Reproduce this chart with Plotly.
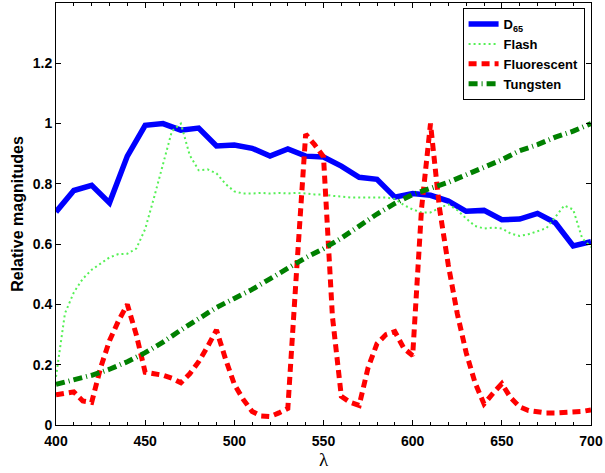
import plotly.graph_objects as go

# Wavelength grids (nm)
wl10 = [400, 410, 420, 430, 440, 450, 460, 470, 480, 490, 500, 510, 520, 530, 540, 550,
        560, 570, 580, 590, 600, 610, 620, 630, 640, 650, 660, 670, 680, 690, 700]
wl5 = [400, 405, 410, 415, 420, 425, 430, 435, 440, 445, 450, 455, 460, 465, 470, 475,
       480, 485, 490, 495, 500, 505, 510, 515, 520, 525, 530, 535, 540, 545, 550, 555,
       560, 565, 570, 575, 580, 585, 590, 595, 600, 605, 610, 615, 620, 625, 630, 635,
       640, 645, 650, 655, 660, 665, 670, 675, 680, 685, 690, 695, 700]

d65 = [0.707, 0.778, 0.795, 0.737, 0.892, 0.994, 1.0, 0.978, 0.985, 0.926, 0.929,
       0.918, 0.892, 0.916, 0.892, 0.889, 0.859, 0.822, 0.815, 0.756, 0.768, 0.762,
       0.743, 0.709, 0.712, 0.681, 0.683, 0.702, 0.671, 0.594, 0.608]

flash = [0.16, 0.37, 0.44, 0.485, 0.515, 0.537, 0.556, 0.567, 0.568, 0.585, 0.65,
         0.755, 0.865, 0.975, 1.0, 0.895, 0.845, 0.848, 0.835, 0.80, 0.775, 0.768,
         0.768, 0.77, 0.768, 0.77, 0.768, 0.77, 0.768, 0.765, 0.765, 0.76, 0.758,
         0.755, 0.755, 0.755, 0.755, 0.755, 0.75, 0.73, 0.715, 0.705, 0.705, 0.72,
         0.732, 0.713, 0.685, 0.66, 0.652, 0.655, 0.652, 0.635, 0.627, 0.633, 0.643,
         0.653, 0.69, 0.728, 0.715, 0.62, 0.59]

fluorescent = [0.10, 0.105, 0.11, 0.08, 0.075, 0.19, 0.28, 0.345, 0.40, 0.30, 0.175,
               0.17, 0.165, 0.155, 0.14, 0.17, 0.21, 0.26, 0.315, 0.22, 0.135, 0.085,
               0.045, 0.03, 0.028, 0.04, 0.055, 0.52, 0.965, 0.93, 0.89, 0.36, 0.095,
               0.075, 0.065, 0.19, 0.27, 0.30, 0.31, 0.255, 0.23, 0.72, 1.0, 0.72,
               0.53, 0.37, 0.24, 0.14, 0.07, 0.105, 0.137, 0.09, 0.06, 0.048, 0.042,
               0.04, 0.04, 0.041, 0.042, 0.045, 0.05]

tungsten = [0.135, 0.15, 0.165, 0.185, 0.21, 0.24, 0.275, 0.315, 0.355, 0.39, 0.42,
            0.45, 0.485, 0.52, 0.555, 0.585, 0.62, 0.66, 0.70, 0.735, 0.765, 0.785,
            0.805, 0.83, 0.855, 0.88, 0.91, 0.93, 0.955, 0.975, 1.0]

y_ticks = [0, 0.2, 0.4, 0.6, 0.8, 1.0, 1.2]
x_ticks = [400, 450, 500, 550, 600, 650, 700]

FONT = "Liberation Sans"

fig = go.Figure()
fig.add_trace(go.Scatter(x=wl10, y=d65, mode="lines", name="D<sub>65</sub>",
                         line=dict(color="#0000ff", width=5.5)))
fig.add_trace(go.Scatter(x=wl5, y=flash, mode="lines", name="Flash",
                         line=dict(color="#55f055", width=2, dash="2px,3px")))
fig.add_trace(go.Scatter(x=wl5, y=fluorescent, mode="lines", name="Fluorescent",
                         line=dict(color="#ff0000", width=5, dash="8px,5px")))
fig.add_trace(go.Scatter(x=wl10, y=tungsten, mode="lines", name="Tungsten",
                         line=dict(color="#008000", width=5, dash="9px,4px,1px,4px")))

fig.update_layout(
    width=605, height=473,
    margin=dict(l=56, r=12, t=2, b=48),
    paper_bgcolor="white", plot_bgcolor="white",
    font=dict(family=FONT, size=14, color="black"),
    showlegend=True,
    legend=dict(x=0.988, y=0.988, xanchor="right", yanchor="top",
                bgcolor="white", bordercolor="black", borderwidth=1,
                font=dict(family=FONT, size=13, color="black", weight="bold"),
                tracegroupgap=0, itemwidth=30),
    xaxis=dict(range=[400, 700], tickvals=x_ticks, ticks="inside", ticklen=5,
               tickcolor="black", showline=True, linecolor="black", linewidth=1,
               mirror="allticks", showgrid=False, zeroline=False,
               ticklabelstandoff=3,
               tickfont=dict(family=FONT, size=14, weight="bold"),
               minor=dict(dtick=10, tick0=400, ticks="inside", ticklen=3,
                          tickcolor="black", showgrid=False),
               title=dict(text="λ", font=dict(family="Liberation Serif", size=19),
                          standoff=3)),
    yaxis=dict(range=[0, 1.4], tickvals=y_ticks, ticks="inside", ticklen=5,
               tickcolor="black", showline=True, linecolor="black", linewidth=1,
               mirror="allticks", showgrid=False, zeroline=False,
               tickfont=dict(family=FONT, size=14, weight="bold"),
               title=dict(text="Relative magnitudes",
                          font=dict(family=FONT, size=16, weight="bold"),
                          standoff=5)),
)

fig.write_html("out.html")
